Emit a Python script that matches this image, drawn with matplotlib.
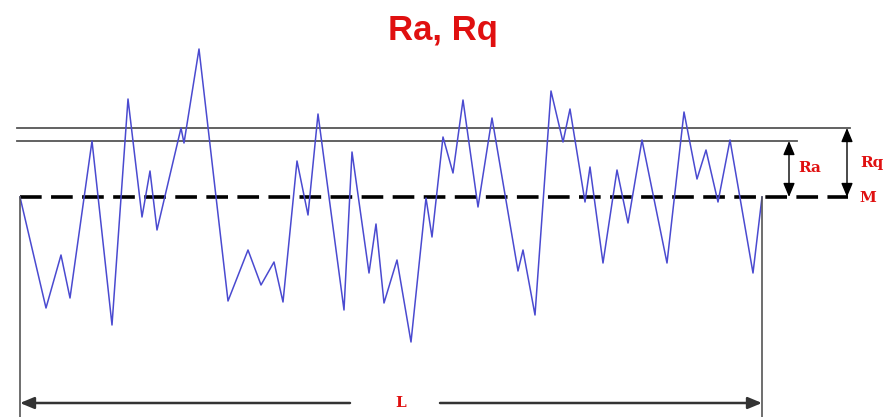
import matplotlib
matplotlib.use("Agg")
import matplotlib.pyplot as plt

# Profile sample positions (px along the trace) and heights relative to mean line M
pos_x = [20, 46, 61, 70, 92, 112, 128, 142, 150, 157, 181, 184, 199, 228, 248, 261, 274, 283,
         297, 308, 318, 344, 352, 369, 376, 384, 397, 411, 426, 432, 443, 453, 463, 478, 492,
         518, 523, 535, 551, 563, 570, 585, 590, 603, 617, 628, 642, 667, 684, 697, 706, 718,
         730, 753, 762]
height = [0, -111, -58, -101, 56, -128, 98, -20, 26, -33, 69, 54, 148, -104, -53, -88, -65, -105,
          36, -18, 83, -113, 45, -76, -27, -106, -63, -145, -1, -40, 60, 24, 97, -10, 79,
          -74, -53, -118, 106, 55, 88, -5, 30, -66, 27, -26, 57, -66, 85, 18, 47, -5,
          57, -76, 0]
Ra = 56
Rq = 69
title = "Ra, Rq"
labels = {"Ra": "Ra", "Rq": "Rq", "M": "M", "L": "L"}

RED = "#e01010"
fig = plt.figure(figsize=(8.86, 4.17), dpi=100)
ax = fig.add_axes([0, 0, 1, 1])
ax.set_xlim(0, 886)
ax.set_ylim(-220, 197)
ax.axis("off")

x0, x1 = pos_x[0], pos_x[-1]
# reference lines
ax.plot([17, 850], [Rq, Rq], color="#555555", lw=1.3)
ax.plot([17, 797], [Ra, Ra], color="#555555", lw=1.3)
ax.plot([x0, 848], [0, 0], color="black", lw=2.6, dashes=(6, 2.6))

# profile
ax.plot(pos_x, height, color="#4a4ad0", lw=1.1)

# vertical boundaries
ax.plot([x0, x0], [0, -220], color="#555555", lw=1.2)
ax.plot([x1, x1], [0, -220], color="#555555", lw=1.2)

# Ra / Rq arrows
arrow = dict(arrowstyle="<|-|>,head_length=0.6,head_width=0.25", color="black", lw=1.0,
             mutation_scale=14, shrinkA=0, shrinkB=0)
ax.annotate("", xy=(789, Ra), xytext=(789, 0), arrowprops=arrow)
ax.annotate("", xy=(847, Rq), xytext=(847, 0), arrowprops=arrow)

lab_font = ["DejaVu Serif"]
ax.text(810, 197 - 168, labels["Ra"], color=RED, fontsize=11, fontweight="bold",
        family=lab_font, ha="center", va="center")
ax.text(872, 197 - 163, labels["Rq"], color=RED, fontsize=11, fontweight="bold",
        family=lab_font, ha="center", va="center")
ax.text(868, 197 - 198, labels["M"], color=RED, fontsize=11, fontweight="bold",
        family=lab_font, ha="center", va="center")

# L dimension
yL = 197 - 403
la = dict(arrowstyle="-|>,head_length=0.6,head_width=0.25", color="#333333", lw=1.8,
          mutation_scale=14, shrinkA=0, shrinkB=0)
ax.annotate("", xy=(x0, yL), xytext=(350, yL), arrowprops=la)
ax.annotate("", xy=(x1, yL), xytext=(440, yL), arrowprops=la)
ax.text(401, yL, labels["L"], color=RED, fontsize=11, fontweight="bold",
        family=lab_font, ha="center", va="center")

# title
ax.text(443, 197 - 30, title, color=RED, fontsize=25, fontweight="bold",
        family=["Liberation Sans", "DejaVu Sans"], ha="center", va="center")

fig.savefig("out.png", dpi=100)
